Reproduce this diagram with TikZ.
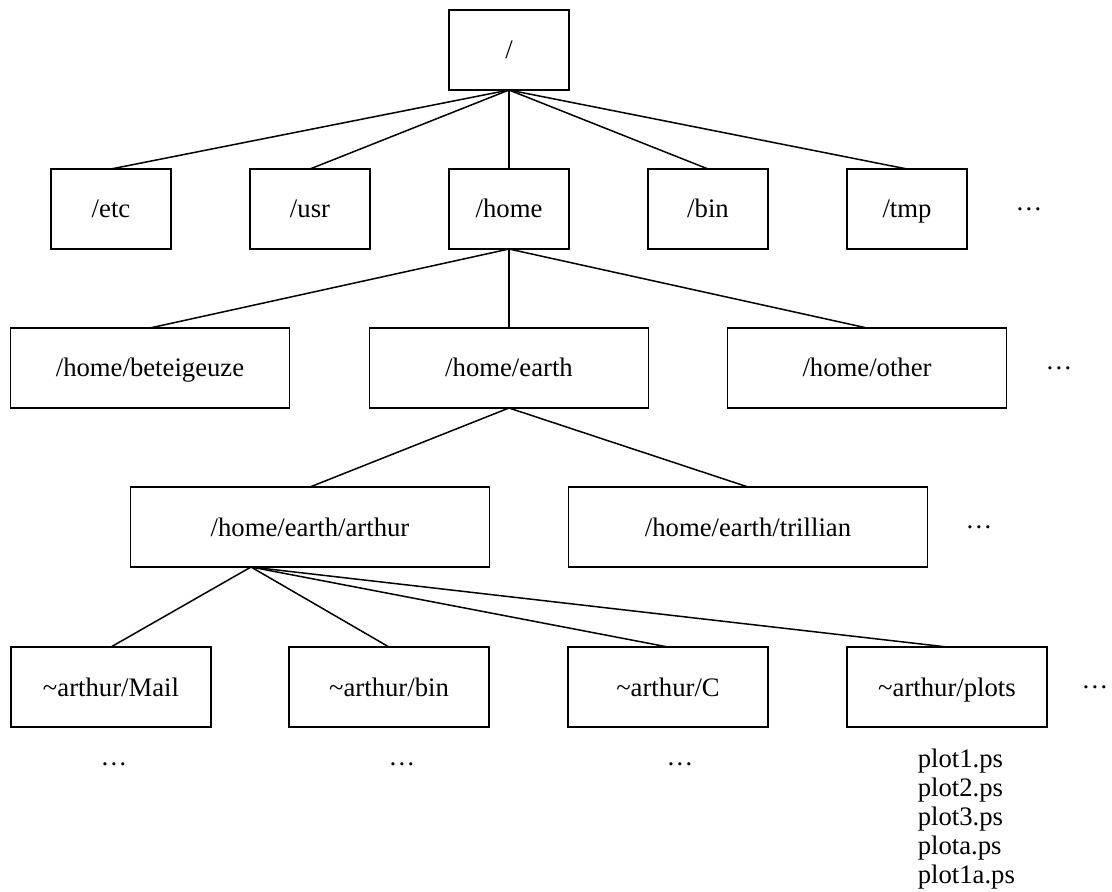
\documentclass[tikz,border=0pt]{standalone}
\usepackage{fontspec}
\setmainfont{Liberation Serif}
\usepackage{tikz}
\usetikzlibrary{positioning}
\newcommand{\treefont}{\fontsize{13.35}{14.5}\selectfont}
\tikzset{dirbox/.style={
    % The shape:
    rectangle,
    % The size:
    minimum width=60pt,
    minimum height=40pt,
    inner sep=0pt,
    outer sep=0pt,
    text height=0.9em,
    text depth=0pt,
    % The border:
    draw=black,
    % Font
    font=\treefont
    },
    homebox/.style={dirbox, minimum width=139.5pt},
    userbox/.style={dirbox, minimum width=179.5pt},
    subbox/.style={dirbox, minimum width=100pt},
    more/.style={
    inner sep=0pt,
    outer sep=0pt,
    font=\treefont,
    },
    filelist/.style={
    inner sep=0pt,
    align=left,
    anchor=north west,
    font=\treefont,
    },
}

\begin{document}
\begin{tikzpicture}[line width=0.75pt, node distance=39.5pt]
    \useasboundingbox (0,0) rectangle (556pt,-446pt);

    \node (root)   [dirbox] at (254.5pt,-25pt)    {/};

    \node (home)   [dirbox,below=of root]         {/home};
    \node (usr)    [dirbox,left=of home]          {/usr};
    \node (etc)    [dirbox,left=of usr]           {/etc};
    \node (bin)    [dirbox,right=of home]         {/bin};
    \node (tmp)    [dirbox,right=of bin]          {/tmp};
    \node (tmpmore)   [more,right=24.3pt of tmp]  {\dots};

    \node (earth)  [homebox,below=of home]        {/home/earth};
    \node (betei)  [homebox,left=40pt of earth]   {/home/beteigeuze};
    \node (other)  [homebox,right=of earth]       {/home/other};
    \node (othermore) [more,right=19.6pt of other] {\dots};

    \node (arthur)   [userbox,below=of earth,xshift=-99.5pt] {/home/earth/arthur};
    \node (trillian) [userbox,right=of arthur]    {/home/earth/trillian};
    \node (trilmore) [more,right=19.1pt of trillian] {\dots};

    \node (mail)   [subbox,below=40pt of arthur,xshift=-99.5pt] {\textasciitilde arthur/Mail};
    \node (abin)   [subbox,right=39pt of mail]    {\textasciitilde arthur/bin};
    \node (csrc)   [subbox,right=of abin]         {\textasciitilde arthur/C};
    \node (plots)  [subbox,right=of csrc]         {\textasciitilde arthur/plots};
    \node (plotsmore) [more,right=17.3pt of plots] {\dots};

    \node (mailmore) [more,below=18pt of mail,xshift=1.5pt]  {\dots};
    \node (abinmore) [more,below=18pt of abin,xshift=6.5pt]  {\dots};
    \node (csrcmore) [more,below=18pt of csrc,xshift=6pt]    {\dots};
    \node (plotfiles) [filelist] at ([xshift=-15pt,yshift=-10.4pt]plots.south)
        {plot1.ps\\plot2.ps\\plot3.ps\\plota.ps\\plot1a.ps};

    \coordinate (fan) at ([xshift=-29.5pt]arthur.south);

    \path (root.south) edge (etc.north) edge (usr.north) edge (home.north)
                       edge (bin.north) edge (tmp.north);
    \path (home.south) edge (betei.north) edge (earth.north) edge (other.north);
    \path (earth.south) edge (arthur.north) edge (trillian.north);
    \path (fan) edge (mail.north) edge (abin.north) edge (csrc.north) edge (plots.north);
\end{tikzpicture}
\end{document}
